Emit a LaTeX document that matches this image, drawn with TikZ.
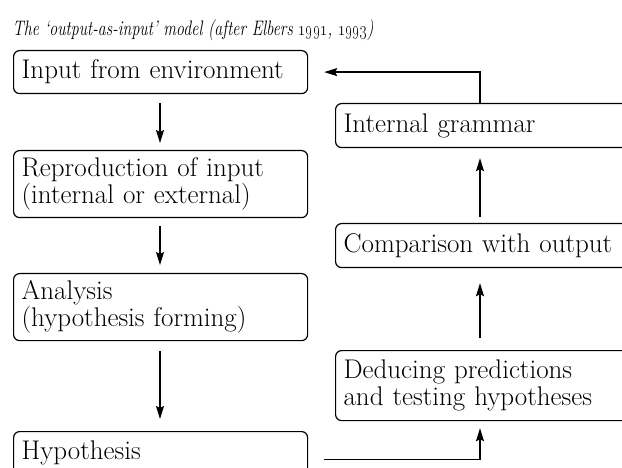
\documentclass[tikz,border=0pt]{standalone}
\usetikzlibrary{arrows.meta}
\begin{document}
\begin{tikzpicture}[x=1pt,y=-1pt,line width=1.2pt,
        box/.style={draw, rounded corners=6pt, anchor=north west, align=left,
            inner xsep=8pt, inner ysep=0pt, text width=#1,
            font=\fontsize{27}{27}\selectfont},
        flow/.style={-{Stealth[length=13pt,width=8pt,inset=2pt]}}]
        \useasboundingbox (0,0) rectangle (622,468);
        \clip (0,0) rectangle (622,468);
        \node[anchor=base west, inner sep=0pt, font=\fontsize{21}{24}\selectfont\itshape]
            (title) at (12,36) {\scalebox{0.76}[1]{The `output-as-input' model (after Elbers \oldstylenums{1991}, \oldstylenums{1993})}};
        % left column
        \node[box=278pt, minimum height=43pt] (input) at (13,50) {Input from environment};
        \node[box=278pt, minimum height=67pt] (repro) at (13,150) {Reproduction of input\\(internal or external)};
        \node[box=278pt, minimum height=67pt] (analysis) at (13,273) {Analysis\\(hypothesis forming)};
        \node[box=278pt, minimum height=43pt] (hypo) at (13,431) {Hypothesis};
        % right column
        \node[box=284pt, minimum height=44pt] (grammar) at (335,103) {Internal grammar};
        \node[box=284pt, minimum height=44pt] (compare) at (335,223) {Comparison with output};
        \node[box=284pt, minimum height=70pt] (deduce) at (335,350) {Deducing predictions\\and testing hypotheses};
        \draw[flow, shorten <=9pt, shorten >=7pt] (input.south -| 160,0) -- (repro.north -| 160,0);
        \draw[flow, shorten <=8pt, shorten >=8pt] (repro.south -| 160,0) -- (analysis.north -| 160,0);
        \draw[flow, shorten <=10pt, shorten >=12pt] (analysis.south -| 160,0) -- (hypo.north -| 160,0);
        \draw[flow, shorten <=16pt, shorten >=7pt] ([yshift=-6pt]hypo.east) -| (deduce.south -| 480,0);
        \draw[flow, shorten <=12pt, shorten >=15pt] (deduce.north -| 480,0) -- (compare.south -| 480,0);
        \draw[flow, shorten <=6pt, shorten >=10pt] (compare.north -| 480,0) -- (grammar.south -| 480,0);
        \draw[flow, shorten >=16pt] (grammar.north -| 480,0) |- (input.east);
    \end{tikzpicture}
\end{document}
